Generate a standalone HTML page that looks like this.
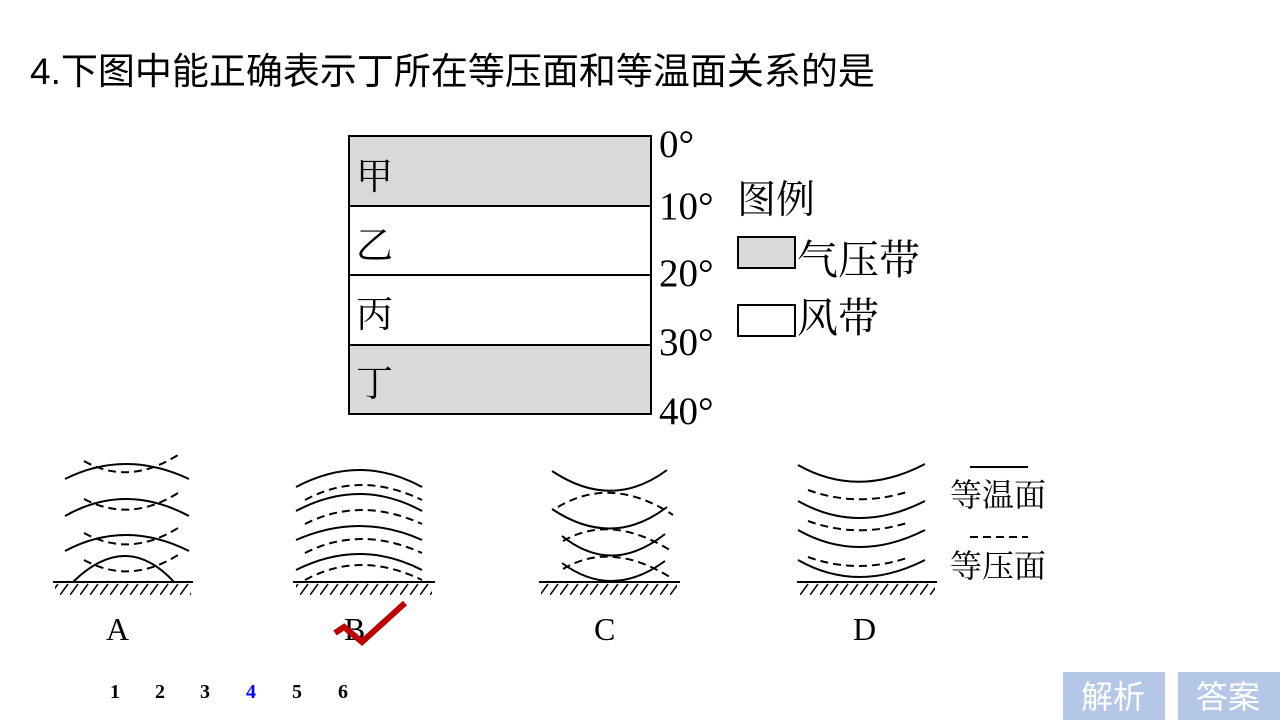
<!DOCTYPE html>
<html><head><meta charset="utf-8"><style>
html,body{margin:0;padding:0;background:#fff;width:1280px;height:720px;overflow:hidden}
svg{display:block}
.s{font-family:"Liberation Serif","Noto Serif CJK SC",serif}
</style></head><body>
<svg width="1280" height="720" viewBox="0 0 1280 720" xmlns="http://www.w3.org/2000/svg">
<defs>
<pattern id="h" x="0" y="583" width="10" height="12" patternUnits="userSpaceOnUse">
<line x1="0" y1="12" x2="8" y2="1" stroke="#000" stroke-width="1.5"/>
</pattern>
</defs>
<text x="30" y="84" font-family="Liberation Sans,'Noto Sans CJK SC',sans-serif" font-size="37" fill="#000">4.下图中能正确表示丁所在等压面和等温面关系的是</text>

<!-- table -->
<g stroke="#000" stroke-width="2">
<rect x="349" y="136" width="302" height="70" fill="#d9d9d9"/>
<rect x="349" y="206" width="302" height="69" fill="#fff"/>
<rect x="349" y="275" width="302" height="70" fill="#fff"/>
<rect x="349" y="345" width="302" height="69" fill="#d9d9d9"/>
<rect x="738" y="237" width="57" height="31" fill="#d9d9d9"/>
<rect x="738" y="305" width="57" height="31" fill="#fff"/>
</g>
<g class="s" font-size="37" fill="#000">
<text x="356" y="189">甲</text>
<text x="356" y="258">乙</text>
<text x="356" y="327">丙</text>
<text x="356" y="396">丁</text>
</g>
<g class="s" fill="#000">
<text x="737" y="213" font-size="39">图例</text>
<text x="797" y="274" font-size="41">气压带</text>
<text x="797" y="332" font-size="41">风带</text>
</g>
<g class="s" font-size="39" fill="#000">
<text x="659" y="157">0°</text>
<text x="659" y="219">10°</text>
<text x="659" y="286">20°</text>
<text x="659" y="355">30°</text>
<text x="659" y="424">40°</text>
</g>

<!-- grounds -->
<g stroke="#000" stroke-width="2">
<line x1="53" y1="582" x2="193" y2="582"/>
<line x1="293" y1="582" x2="435" y2="582"/>
<line x1="539" y1="582" x2="680" y2="582"/>
<line x1="797" y1="582" x2="937" y2="582"/>
</g>
<rect x="55" y="583" width="136" height="12" fill="url(#h)"/>
<rect x="296" y="583" width="136" height="12" fill="url(#h)"/>
<rect x="541" y="583" width="136" height="12" fill="url(#h)"/>
<rect x="799" y="583" width="136" height="12" fill="url(#h)"/>

<g fill="none" stroke="#000" stroke-width="2">
<path d="M65 479 Q125 449 189 479"/>
<path d="M65 516 Q125 482 189 516"/>
<path d="M65 551 Q125 519 189 551"/>
<path d="M73 582 Q126 530 174 582"/>
<path d="M296 487 Q360 453 422 487"/>
<path d="M296 511 Q360 477 422 511"/>
<path d="M296 540 Q360 512 422 540"/>
<path d="M296 570 Q360 538 422 570"/>
<path d="M552 471 Q612 511 667 470"/>
<path d="M552 509 Q612 549 667 507"/>
<path d="M562 536 Q612 576 665 534"/>
<path d="M562 563 Q612 600 665 561"/>
<path d="M798 465 Q858 499 925 464"/>
<path d="M798 501 Q858 535 925 501"/>
<path d="M798 530 Q858 564 925 530"/>
<path d="M798 560 Q858 594 925 560"/>
<line x1="970" y1="467" x2="1028" y2="467"/>
</g>
<g fill="none" stroke="#000" stroke-width="2" stroke-dasharray="8,5">
<path d="M84 461 Q130 487 181 453"/>
<path d="M84 499 Q130 523 178 493"/>
<path d="M84 533 Q130 558 178 528"/>
<path d="M84 560 Q130 585 178 555"/>
<path d="M305 500 Q360 470 422 500"/>
<path d="M305 524 Q360 496 422 524"/>
<path d="M305 553 Q360 525 422 553"/>
<path d="M305 580 Q360 550 422 580"/>
<path d="M558 507 Q612 475 673 515"/>
<path d="M563 541 Q612 513 673 552"/>
<path d="M563 569 Q612 540 673 579"/>
<path d="M808 490 Q858 508 910 491"/>
<path d="M808 521 Q858 539 910 522"/>
<path d="M808 557 Q858 575 910 557"/>
<line x1="970" y1="537" x2="1028" y2="537"/>
</g>
<g class="s" font-size="32" fill="#000">
<text x="950" y="506">等温面</text>
<text x="950" y="577">等压面</text>
<text x="106" y="640">A</text>
<text x="344" y="640">B</text>
<text x="594" y="640">C</text>
<text x="853" y="640">D</text>
</g>
<polyline points="335,633 344,627 362,642 405,603" fill="none" stroke="#c00000" stroke-width="6"/>

<g font-family="Liberation Serif,serif" font-weight="bold" font-size="20" fill="#000">
<text x="110" y="698">1</text>
<text x="155" y="698">2</text>
<text x="200" y="698">3</text>
<text x="246" y="698" fill="#0000ff">4</text>
<text x="292" y="698">5</text>
<text x="338" y="698">6</text>
</g>
<rect x="1063" y="672" width="102" height="48" fill="#b4c7e7"/>
<rect x="1178" y="672" width="102" height="48" fill="#b4c7e7"/>
<g font-family="Liberation Sans,'Noto Sans CJK SC',sans-serif" font-size="32" fill="#fff">
<text x="1081" y="708">解析</text>
<text x="1196" y="708">答案</text>
</g>
</svg>
</body></html>
